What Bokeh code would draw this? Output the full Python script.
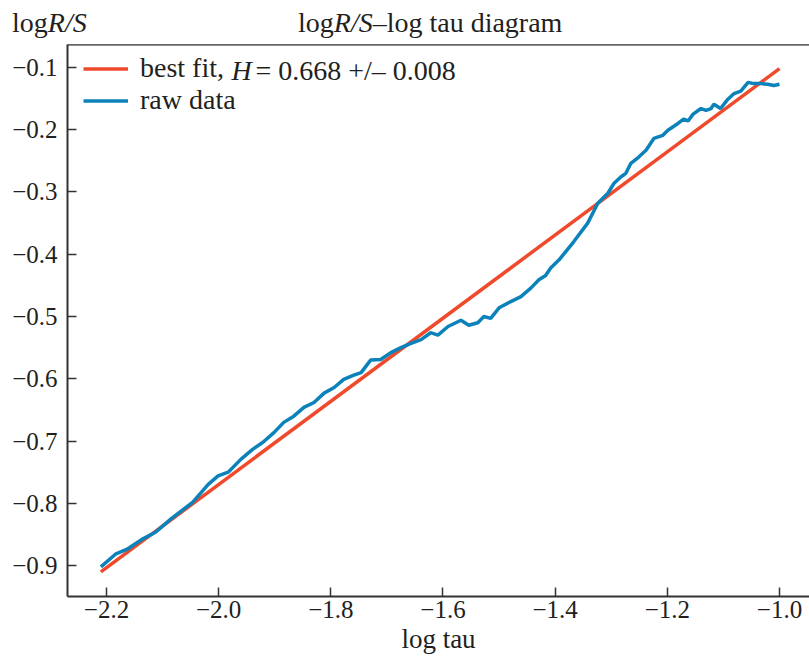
from bokeh.plotting import figure
from bokeh.models import (Range1d, FixedTicker, CustomJSTickFormatter, LinearAxis,
                          Label, Legend, LegendItem, Div)
from bokeh.layouts import column
from bokeh.embed import file_html
from bokeh.resources import INLINE

# ---- data -------------------------------------------------------------
log_tau = [-2.210, -2.183, -2.162, -2.135, -2.112, -2.085, -2.046, -2.019, -2.001, -1.983,
           -1.960, -1.939, -1.921, -1.901, -1.884, -1.866, -1.848, -1.830, -1.812, -1.794,
           -1.777, -1.759, -1.746, -1.729, -1.711, -1.693, -1.675, -1.657, -1.639, -1.622,
           -1.609, -1.591, -1.568, -1.554, -1.538, -1.527, -1.515, -1.500, -1.479, -1.461,
           -1.443, -1.429, -1.417, -1.408, -1.393, -1.367, -1.342, -1.324, -1.306, -1.295,
           -1.283, -1.274, -1.265, -1.251, -1.238, -1.224, -1.208, -1.199, -1.181, -1.171,
           -1.163, -1.154, -1.140, -1.131, -1.122, -1.117, -1.105, -1.092, -1.081, -1.069,
           -1.056, -1.046, -1.033, -1.021, -1.010, -1.000]
log_rs = [-0.902, -0.881, -0.873, -0.857, -0.846, -0.825, -0.798, -0.770, -0.756, -0.750,
          -0.729, -0.713, -0.702, -0.686, -0.670, -0.660, -0.646, -0.638, -0.623, -0.614,
          -0.601, -0.594, -0.590, -0.570, -0.569, -0.558, -0.550, -0.543, -0.537, -0.526,
          -0.530, -0.516, -0.506, -0.514, -0.510, -0.500, -0.503, -0.486, -0.476, -0.468,
          -0.454, -0.441, -0.434, -0.422, -0.409, -0.380, -0.350, -0.318, -0.302, -0.286,
          -0.276, -0.270, -0.254, -0.244, -0.233, -0.214, -0.209, -0.201, -0.190, -0.183,
          -0.186, -0.175, -0.166, -0.169, -0.166, -0.159, -0.166, -0.151, -0.142, -0.138,
          -0.124, -0.126, -0.126, -0.127, -0.129, -0.127]
fit_x = [-2.21, -1.00]
fit_y = [-0.910, -0.102]
x_ticks = [-2.2, -2.0, -1.8, -1.6, -1.4, -1.2, -1.0]
y_ticks = [-0.9, -0.8, -0.7, -0.6, -0.5, -0.4, -0.3, -0.2, -0.1]
H_text = "= 0.668 +/\u2013 0.008"

FONT = "Liberation Serif"
TXT = "#231F20"
RED = "#EF4A2C"
BLUE = "#0B82BA"

# ---- header (title and y label, with italic R/S) -------------------------
header_html = (
    '<div style="height:44px; box-sizing:border-box; padding-top:9px; '
    'font-family:\'Liberation Serif\'; font-size:28px; line-height:28px; '
    'color:#231F20; white-space:nowrap;">'
    '<span style="display:inline-block; margin-left:12px; width:286px;">'
    'log<i>R/S</i></span>'
    '<span style="display:inline-block;">log<i>R/S</i>\u2013log tau diagram</span>'
    '</div>'
)
header = Div(text=header_html, width=809, height=44, margin=0)

# ---- figure -------------------------------------------------------------
p = figure(width=809, height=612, output_backend="svg", toolbar_location=None,
           title=None,
           x_range=Range1d(-2.2695, -0.9465), y_range=Range1d(-0.9496, -0.0632),
           min_border_left=67, min_border_right=0, min_border_top=0, min_border_bottom=58)
p.outline_line_color = None
p.grid.visible = False
p.background_fill_color = "white"
p.border_fill_color = "white"

r_fit = p.line(fit_x, fit_y, line_color=RED, line_width=3.5)
r_raw = p.line(log_tau, log_rs, line_color=BLUE, line_width=3.5)

fmt = CustomJSTickFormatter(code="return tick.toFixed(1).replace('-', '\u2212');")

for ax in (p.xaxis[0], p.yaxis[0]):
    ax.major_label_text_font = FONT
    ax.major_label_text_font_size = "25px"
    ax.major_label_text_color = TXT
    ax.major_tick_in = 9
    ax.major_tick_out = 0
    ax.minor_tick_line_color = None
    ax.major_tick_line_color = "#333333"
    ax.major_tick_line_width = 1.5
    ax.axis_line_color = "#333333"
    ax.axis_line_width = 2
    ax.formatter = fmt

p.xaxis[0].ticker = FixedTicker(ticks=x_ticks)
p.yaxis[0].ticker = FixedTicker(ticks=y_ticks)
p.xaxis[0].major_label_standoff = 4
p.yaxis[0].major_label_standoff = 10
p.xaxis[0].axis_label = "log tau"
p.xaxis[0].axis_label_text_font = FONT
p.xaxis[0].axis_label_text_font_size = "27px"
p.xaxis[0].axis_label_text_font_style = "normal"
p.xaxis[0].axis_label_text_color = TXT
p.xaxis[0].axis_label_standoff = 3

top = LinearAxis(ticker=FixedTicker(ticks=[]), major_label_text_font_size="0px",
                 axis_line_color="#666666", axis_line_width=2.5,
                 major_tick_line_color=None, minor_tick_line_color=None)
p.add_layout(top, "above")

legend = Legend(items=[LegendItem(label="best fit,", renderers=[r_fit]),
                       LegendItem(label="raw data", renderers=[r_raw])],
                location=(16, 480), padding=0, margin=0, spacing=0,
                border_line_color=None, background_fill_alpha=0,
                label_text_font=FONT, label_text_font_size="28px", label_text_color=TXT,
                glyph_width=45, glyph_height=31, label_height=31, label_standoff=12)
p.add_layout(legend)

# legend remainder: italic H and the value
p.add_layout(Label(x=164, y=526.5, x_units="screen", y_units="screen", text="H",
                   text_font=FONT, text_font_size="28px", text_color=TXT,
                   text_font_style="italic", text_baseline="middle"))
p.add_layout(Label(x=188, y=526.5, x_units="screen", y_units="screen", text=H_text,
                   text_font=FONT, text_font_size="28px", text_color=TXT,
                   text_baseline="middle"))

layout = column(header, p, spacing=0)
open("out.html", "w").write(file_html(layout, INLINE))
